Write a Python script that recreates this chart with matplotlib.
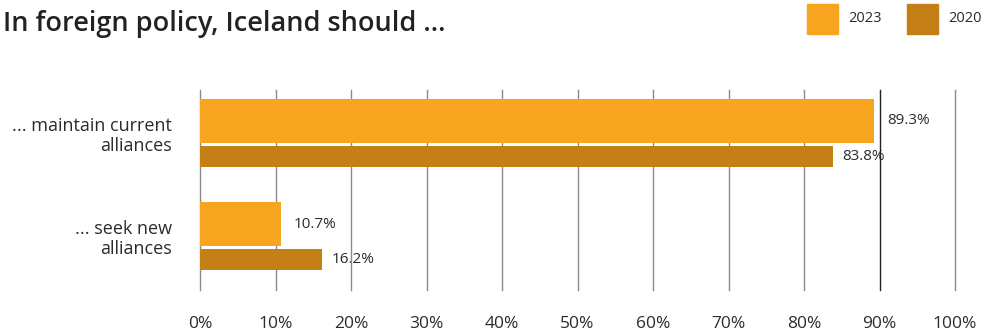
import matplotlib
matplotlib.use("Agg")
import matplotlib.pyplot as plt
from matplotlib.patches import Rectangle
import numpy as np

plt.rcParams['font.family'] = ['Open Sans', 'DejaVu Sans']

title = "In foreign policy, Iceland should ..."
categories = ["... maintain current\nalliances", "... seek new\nalliances"]
series_names = ["2023", "2020"]
values_2023 = [89.3, 10.7]
values_2020 = [83.8, 16.2]
xticks = [0, 10, 20, 30, 40, 50, 60, 70, 80, 90, 100]
xtick_labels = [f"{t}%" for t in xticks]

c2023 = "#F7A51E"
c2020 = "#C47F17"
text_c = "#2b2b2b"

W, H = 983, 333
fig = plt.figure(figsize=(W / 100, H / 100), dpi=100)
ax = fig.add_axes([200 / W, 1 - 290 / H, 755 / W, 200 / H])

y = np.arange(len(categories))
off23, h23 = -0.1165, 0.427
off20, h20 = 0.228, 0.204

ax.barh(y + off23, values_2023, height=h23, color=c2023, zorder=3, linewidth=0)
ax.barh(y + off20, values_2020, height=h20, color=c2020, zorder=3, linewidth=0)

for yi, v in zip(y, values_2023):
    ax.text(v + 1.7, yi + off23, f"{v:.1f}%", va="center", ha="left",
            fontsize=11, color=text_c, zorder=1)
for yi, v in zip(y, values_2020):
    ax.text(v + 1.3, yi + off20, f"{v:.1f}%", va="center", ha="left",
            fontsize=11, color=text_c, zorder=1)

for t in xticks:
    col = "#222222" if t == 90 else "#8a8a8a"
    ax.axvline(t, color=col, lw=1.0, zorder=2, clip_on=False)

ax.set_xlim(0, 100)
ax.set_ylim(1.524, -0.417)
ax.set_xticks(xticks)
ax.set_xticklabels(xtick_labels, fontsize=12.5, color=text_c)
ax.set_yticks(y)
ax.set_yticklabels(categories, fontsize=13, color=text_c, linespacing=1.15)
ax.tick_params(axis="both", length=0)
ax.tick_params(axis="x", pad=19)
ax.tick_params(axis="y", pad=20)
for s in ax.spines.values():
    s.set_visible(False)

fig.text(3 / W, 1 - 24 / H, title, fontsize=19.5, fontweight="semibold",
         color="#222222", va="center", ha="left")

# legend
leg_x = [807, 907]
for name, col, lx in zip(series_names, [c2023, c2020], leg_x):
    fig.patches.append(Rectangle((lx / W, 1 - 34 / H), 31 / W, 30 / H,
                                 transform=fig.transFigure, color=col))
    fig.text((lx + 41) / W, 1 - 19 / H, name, fontsize=10.5, color=text_c,
             va="center", ha="left")

fig.savefig("out.png", dpi=100)
